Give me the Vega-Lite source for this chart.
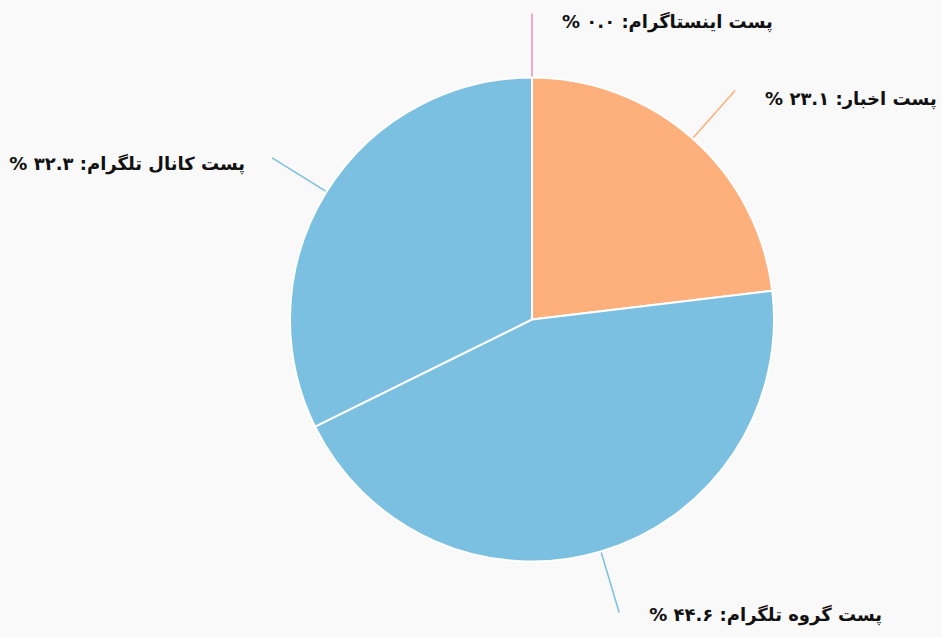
{
  "$schema": "https://vega.github.io/schema/vega-lite/v6.json",
  "width": 820,
  "height": 637,
  "autosize": {"type": "none"},
  "padding": {"left": 122, "top": 1, "right": 0, "bottom": 0},
  "background": "#f9f9f9",
  "config": {"view": {"stroke": null}},
  "data": {
    "values": [
      {"name": "پست اخبار", "value": 23.1, "ord": 1, "label": "\u202bپست اخبار: ۲۳.۱ %\u202c"},
      {"name": "پست گروه تلگرام", "value": 44.6, "ord": 2, "label": "\u202bپست گروه تلگرام: ۴۴.۶ %\u202c"},
      {"name": "پست کانال تلگرام", "value": 32.3, "ord": 3, "label": "\u202bپست کانال تلگرام: ۳۲.۳ %\u202c"},
      {"name": "پست اینستاگرام", "value": 0.0, "ord": 4, "label": "\u202bپست اینستاگرام: ۰.۰ %\u202c"}
    ]
  },
  "transform": [
    {"window": [{"op": "sum", "field": "value", "as": "cum"}], "sort": [{"field": "ord"}], "frame": [null, 0]},
    {"calculate": "datum.cum - datum.value / 2", "as": "mid"}
  ],
  "layer": [
    {
      "mark": {"type": "arc", "outerRadius": 242, "stroke": "white", "strokeWidth": 2},
      "encoding": {
        "theta": {"field": "value", "type": "quantitative", "stack": true, "scale": {"domain": [0, 100]}},
        "order": {"field": "ord", "type": "quantitative"},
        "color": {
          "field": "name", "type": "nominal", "legend": null,
          "scale": {"domain": ["پست اخبار", "پست گروه تلگرام", "پست کانال تلگرام", "پست اینستاگرام"], "range": ["#fdaf7c", "#7cc0e1", "#7cc0e1", "#ec8fc0"]}
        }
      }
    },
    {
      "mark": {"type": "arc", "radius": 306, "radius2": 243, "fillOpacity": 0, "strokeWidth": 1.5},
      "encoding": {
        "theta": {"field": "mid", "type": "quantitative", "stack": null, "scale": {"domain": [0, 100]}},
        "theta2": {"field": "mid"},
        "stroke": {
          "field": "name", "type": "nominal", "legend": null,
          "scale": {"domain": ["پست اخبار", "پست گروه تلگرام", "پست کانال تلگرام", "پست اینستاگرام"], "range": ["#fdaf7c", "#7cc0e1", "#7cc0e1", "#ec8fc0"]}
        }
      }
    },
    {
      "transform": [{"filter": "datum.mid <= 25 || datum.mid >= 99"}],
      "mark": {"type": "text", "radius": 306, "align": "left", "baseline": "middle", "dx": 30, "dy": 9, "font": "DejaVu Sans", "fontWeight": "bold", "fontSize": 18, "color": "#111111"},
      "encoding": {
        "theta": {"field": "mid", "type": "quantitative", "stack": null, "scale": {"domain": [0, 100]}},
        "text": {"field": "label"}
      }
    },
    {
      "transform": [{"filter": "datum.mid > 25 && datum.mid <= 50"}],
      "mark": {"type": "text", "radius": 306, "align": "left", "baseline": "middle", "dx": 30, "dy": 3, "font": "DejaVu Sans", "fontWeight": "bold", "fontSize": 18, "color": "#111111"},
      "encoding": {
        "theta": {"field": "mid", "type": "quantitative", "stack": null, "scale": {"domain": [0, 100]}},
        "text": {"field": "label"}
      }
    },
    {
      "transform": [{"filter": "datum.mid > 50 && datum.mid < 99"}],
      "mark": {"type": "text", "radius": 306, "align": "right", "baseline": "middle", "dx": -27, "dy": 7, "font": "DejaVu Sans", "fontWeight": "bold", "fontSize": 18, "color": "#111111"},
      "encoding": {
        "theta": {"field": "mid", "type": "quantitative", "stack": null, "scale": {"domain": [0, 100]}},
        "text": {"field": "label"}
      }
    }
  ]
}
